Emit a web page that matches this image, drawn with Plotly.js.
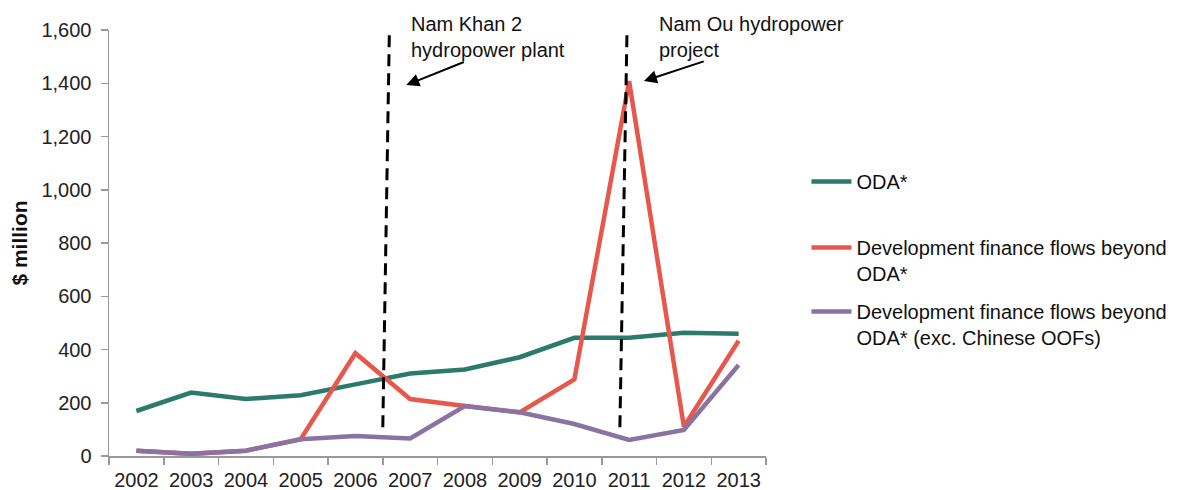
<!DOCTYPE html>
<html>
<head>
<meta charset="utf-8">
<script src="https://cdn.plot.ly/plotly-3.0.1.min.js"></script>
<style>html,body{margin:0;padding:0;background:#fff;}#chart{width:1184px;height:490px;}</style>
</head>
<body>
<div id="chart"></div>
<script>
var years = ["2002","2003","2004","2005","2006","2007","2008","2009","2010","2011","2012","2013"];
var oda = [169, 238, 214, 228, 269, 310, 325, 371, 444, 444, 463, 459];
var beyondOda = [20, 8, 20, 63, 386, 214, 188, 164, 288, 1408, 110, 433];
var beyondOdaExChina = [20, 8, 20, 63, 75, 66, 188, 164, 120, 60, 98, 342];
var seriesNames = ["ODA*", "Development finance flows beyond<br>ODA*", "Development finance flows beyond<br>ODA* (exc. Chinese OOFs)"];
var seriesColors = ["#2b7a6c", "#e8574b", "#8a73a3"];
var eventLabels = ["Nam Khan 2<br>hydropower plant", "Nam Ou hydropower<br>project"];

var font = "Liberation Sans, Arial, sans-serif";
var values = [oda, beyondOda, beyondOdaExChina];
var legendIds = ["legend", "legend2", "legend3"];
var data = values.map(function(v, i){
  return {x: years, y: v, type: "scatter", mode: "lines", name: seriesNames[i],
    line: {color: seriesColors[i], width: 4.5}, legend: legendIds[i]};
});

// dashed event markers (category index positions)
var shapes = [
  {type: "line", xref: "x", yref: "y", x0: 4.62, y0: 1580, x1: 4.50, y1: 98,
    line: {color: "#000", width: 3, dash: "12px,7px"}},
  {type: "line", xref: "x", yref: "y", x0: 8.96, y0: 1580, x1: 8.83, y1: 98,
    line: {color: "#000", width: 3, dash: "12px,7px"}}
];
var annotations = [
  {xref: "x", yref: "y", x: 4.93, y: 1393, ax: 6.01, ay: 1482, axref: "x", ayref: "y",
   showarrow: true, arrowhead: 2, arrowsize: 1.3, arrowwidth: 2, arrowcolor: "#000", text: ""},
  {xref: "x", yref: "y", x: 9.27, y: 1408, ax: 10.39, ay: 1484, axref: "x", ayref: "y",
   showarrow: true, arrowhead: 2, arrowsize: 1.3, arrowwidth: 2, arrowcolor: "#000", text: ""},
  {xref: "paper", yref: "paper", x: (413-109)/666, y: (456-37)/426, xanchor: "left", yanchor: "middle",
   text: eventLabels[0], showarrow: false, align: "left", font: {family: font, size: 20, color: "#111"}},
  {xref: "paper", yref: "paper", x: (664-109)/666, y: (456-37)/426, xanchor: "left", yanchor: "middle",
   text: eventLabels[1], showarrow: false, align: "left", font: {family: font, size: 20, color: "#111"}}
];

function leg(ypix){
  return {x: (816-109)/666, y: (456-ypix)/426, xanchor: "left", yanchor: "top", valign: "top",
    font: {family: font, size: 20, color: "#111"}, bgcolor: "rgba(0,0,0,0)", itemwidth: 40};
}

var layout = {
  width: 1184, height: 490,
  margin: {l: 109, r: 409, t: 30, b: 34},
  paper_bgcolor: "#fff", plot_bgcolor: "#fff",
  font: {family: font, size: 20, color: "#222"},
  showlegend: true,
  legend: leg(162),
  legend2: leg(228),
  legend3: leg(292),
  xaxis: {type: "category", range: [-0.5, 11.5], showgrid: false, showline: true, linecolor: "#999", linewidth: 1.5,
    ticks: "outside", tickson: "boundaries", ticklen: 7, tickcolor: "#999", tickwidth: 1.5,
    ticklabelstandoff: 5,
    tickfont: {family: font, size: 20, color: "#222"}, zeroline: false, fixedrange: true},
  yaxis: {range: [0, 1600], dtick: 200, tickformat: ",", showgrid: false, showline: true,
    linecolor: "#999", linewidth: 1.5, ticks: "outside", ticklen: 7, tickcolor: "#999", tickwidth: 1.5,
    ticklabelstandoff: 5,
    tickfont: {family: font, size: 20, color: "#222"}, zeroline: false,
    title: {text: "<b>$ million</b>", font: {family: font, size: 21, color: "#111"}, standoff: 8}},
  shapes: shapes,
  annotations: annotations
};
Plotly.newPlot("chart", data, layout, {displayModeBar: false, staticPlot: true});
</script>
</body>
</html>
